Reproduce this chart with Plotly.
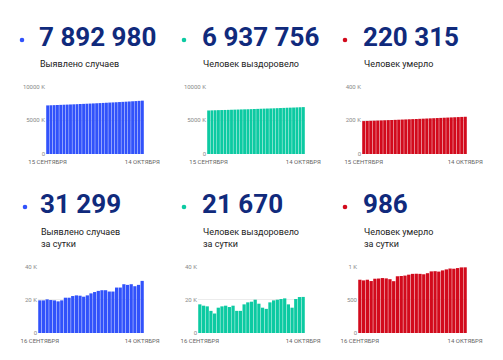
import plotly.graph_objects as go

W, H = 503, 360

# ---------------- data ----------------
top_days = ["15.09", "16.09", "17.09", "18.09", "19.09", "20.09", "21.09", "22.09", "23.09", "24.09",
            "25.09", "26.09", "27.09", "28.09", "29.09", "30.09", "01.10", "02.10", "03.10", "04.10",
            "05.10", "06.10", "07.10", "08.10", "09.10", "10.10", "11.10", "12.10", "13.10", "14.10"]
bottom_days = top_days[1:]

cases_total = [7190, 7210, 7230, 7250, 7270, 7290, 7309, 7329, 7350, 7371, 7394, 7416, 7438, 7460, 7483,
               7507, 7531, 7557, 7583, 7608, 7633, 7658, 7685, 7712, 7741, 7770, 7799, 7828, 7862, 7893]
recovered_total = [6440, 6457, 6474, 6490, 6503, 6515, 6530, 6546, 6562, 6578, 6594, 6607, 6620, 6637, 6656,
                   6674, 6694, 6712, 6727, 6742, 6760, 6780, 6800, 6820, 6841, 6858, 6873, 6894, 6916, 6938]
deaths_total = [194.8, 195.6, 196.4, 197.2, 198.0, 198.8, 199.6, 200.5, 201.3, 202.1, 202.9, 203.8, 204.6,
                205.5, 206.4, 207.3, 208.2, 209.1, 210.0, 210.9, 211.8, 212.8, 213.7, 214.7, 215.6, 216.6,
                217.5, 218.5, 219.4, 220.3]

cases_daily = [19.6, 19.6, 20.2, 19.8, 19.6, 19.0, 19.6, 21.2, 21.2, 22.2, 22.6, 22.4, 21.8, 22.6, 23.8,
               24.6, 25.3, 25.7, 25.7, 24.9, 24.9, 27.3, 27.3, 29.3, 28.9, 29.3, 28.1, 28.9, 31.3]
recovered_daily = [17.2, 16.4, 16.0, 13.3, 11.7, 15.2, 16.0, 16.4, 15.6, 16.4, 13.3, 13.3, 17.2, 18.4, 18.8,
                   20.0, 17.6, 15.2, 14.5, 18.4, 19.6, 20.0, 20.4, 20.8, 17.2, 15.2, 20.4, 21.6, 21.67]
deaths_daily = [800, 790, 800, 780, 815, 818, 825, 820, 808, 778, 852, 856, 862, 876, 888, 890, 888, 882,
                898, 925, 928, 922, 940, 955, 968, 965, 975, 985, 986]

big_numbers = ["7 892 980", "6 937 756", "220 315", "31 299", "21 670", "986"]
subtitles = ["Выявлено случаев", "Человек выздоровело", "Человек умерло",
             "Выявлено случаев<br>за сутки", "Человек выздоровело<br>за сутки", "Человек умерло<br>за сутки"]
top_x_labels = ["15 СЕНТЯБРЯ", "14 ОКТЯБРЯ"]
bottom_x_labels = ["16 СЕНТЯБРЯ", "14 ОКТЯБРЯ"]

y_ticks = [[0, 5000, 10000], [0, 5000, 10000], [0, 200, 400], [0, 20, 40], [0, 20, 40], [0, 500, 1000]]
y_ticktext = [["0", "5000 K", "10000 K"], ["0", "5000 K", "10000 K"], ["0", "200 K", "400 K"],
              ["0", "20 K", "40 K"], ["0", "20 K", "40 K"], ["0", "500", "1 K"]]

# ---------------- styles ----------------
BLUE = "#3152fb"
GREEN = "#0ccaa2"
RED = "#d20a1c"
NAVY = "#102a7c"
colors = [BLUE, GREEN, RED, BLUE, GREEN, RED]

# pixel layout (left, right, top, bottom) of plot areas
areas = [(46, 144, 86, 154), (207, 305, 86, 154), (362, 467, 86, 154),
         (38, 144, 266, 333), (198, 305, 266, 333), (358, 467, 266, 333)]
dot_x = [22, 184, 345, 25, 184, 345]
num_x = [37, 200, 361, 38, 200, 361]
num_y = [37, 37, 37, 204, 204, 204]
sub_y = [64, 64, 64, 238, 238, 238]

series = [cases_total, recovered_total, deaths_total, cases_daily, recovered_daily, deaths_daily]
xs = [top_days, top_days, top_days, bottom_days, bottom_days, bottom_days]
xlabels = [top_x_labels] * 3 + [bottom_x_labels] * 3


def fx(p):
    return p / W


def fy(p):
    return 1 - p / H


fig = go.Figure()
annotations = []
shapes = []
layout = {}
for i in range(6):
    n = "" if i == 0 else str(i + 1)
    fig.add_trace(go.Bar(x=xs[i], y=series[i], marker=dict(color=colors[i], line=dict(width=0)),
                         xaxis="x" + n, yaxis="y" + n, showlegend=False, hoverinfo="skip"))
    l, r, t, b = areas[i]
    ymax = y_ticks[i][-1]
    layout["xaxis" + n] = dict(domain=[fx(l), fx(r)], anchor="y" + n, type="category",
                               tickmode="array", tickvals=[xs[i][0], xs[i][-1]], ticktext=xlabels[i],
                               showgrid=False, zeroline=False, showline=False, ticks="",
                               tickangle=0, automargin=False, ticklabelstandoff=3,
                               tickfont=dict(family="Roboto", size=6, color="#666666"),
                               fixedrange=True)
    layout["yaxis" + n] = dict(domain=[fy(b), fy(t)], anchor="x" + n, range=[0, ymax * 1.006],
                               tickmode="array", tickvals=y_ticks[i], ticktext=y_ticktext[i],
                               showgrid=True, gridcolor="#ececec", gridwidth=1, zeroline=False,
                               showline=False, ticks="", automargin=False,
                               tickfont=dict(family="Roboto", size=6, color="#888888"),
                               fixedrange=True)
    annotations.append(dict(x=fx(num_x[i]), y=fy(num_y[i]), xref="paper", yref="paper",
                            xanchor="left", yanchor="middle", showarrow=False,
                            text=big_numbers[i],
                            font=dict(family="Roboto", size=26, color=NAVY, weight=700)))
    annotations.append(dict(x=fx(num_x[i] + 1), y=fy(sub_y[i]), xref="paper", yref="paper",
                            xanchor="left", yanchor="middle", showarrow=False, align="left",
                            text=subtitles[i],
                            font=dict(family="Roboto", size=9, color="#222222")))
    dr = 2.3
    cy = num_y[i] + 3
    shapes.append(dict(type="circle", xref="paper", yref="paper",
                       x0=fx(dot_x[i] - dr), x1=fx(dot_x[i] + dr),
                       y0=fy(cy + dr), y1=fy(cy - dr),
                       fillcolor=colors[i], line=dict(width=0)))

fig.update_layout(width=W, height=H, margin=dict(l=0, r=0, t=0, b=0, autoexpand=False),
                  paper_bgcolor="white", plot_bgcolor="white",
                  bargap=0.12, annotations=annotations, shapes=shapes,
                  font=dict(family="Roboto"), **layout)
fig.write_html("out.html", config={"displayModeBar": False},
               post_script="document.body.style.margin='0';document.body.style.padding='0';")
